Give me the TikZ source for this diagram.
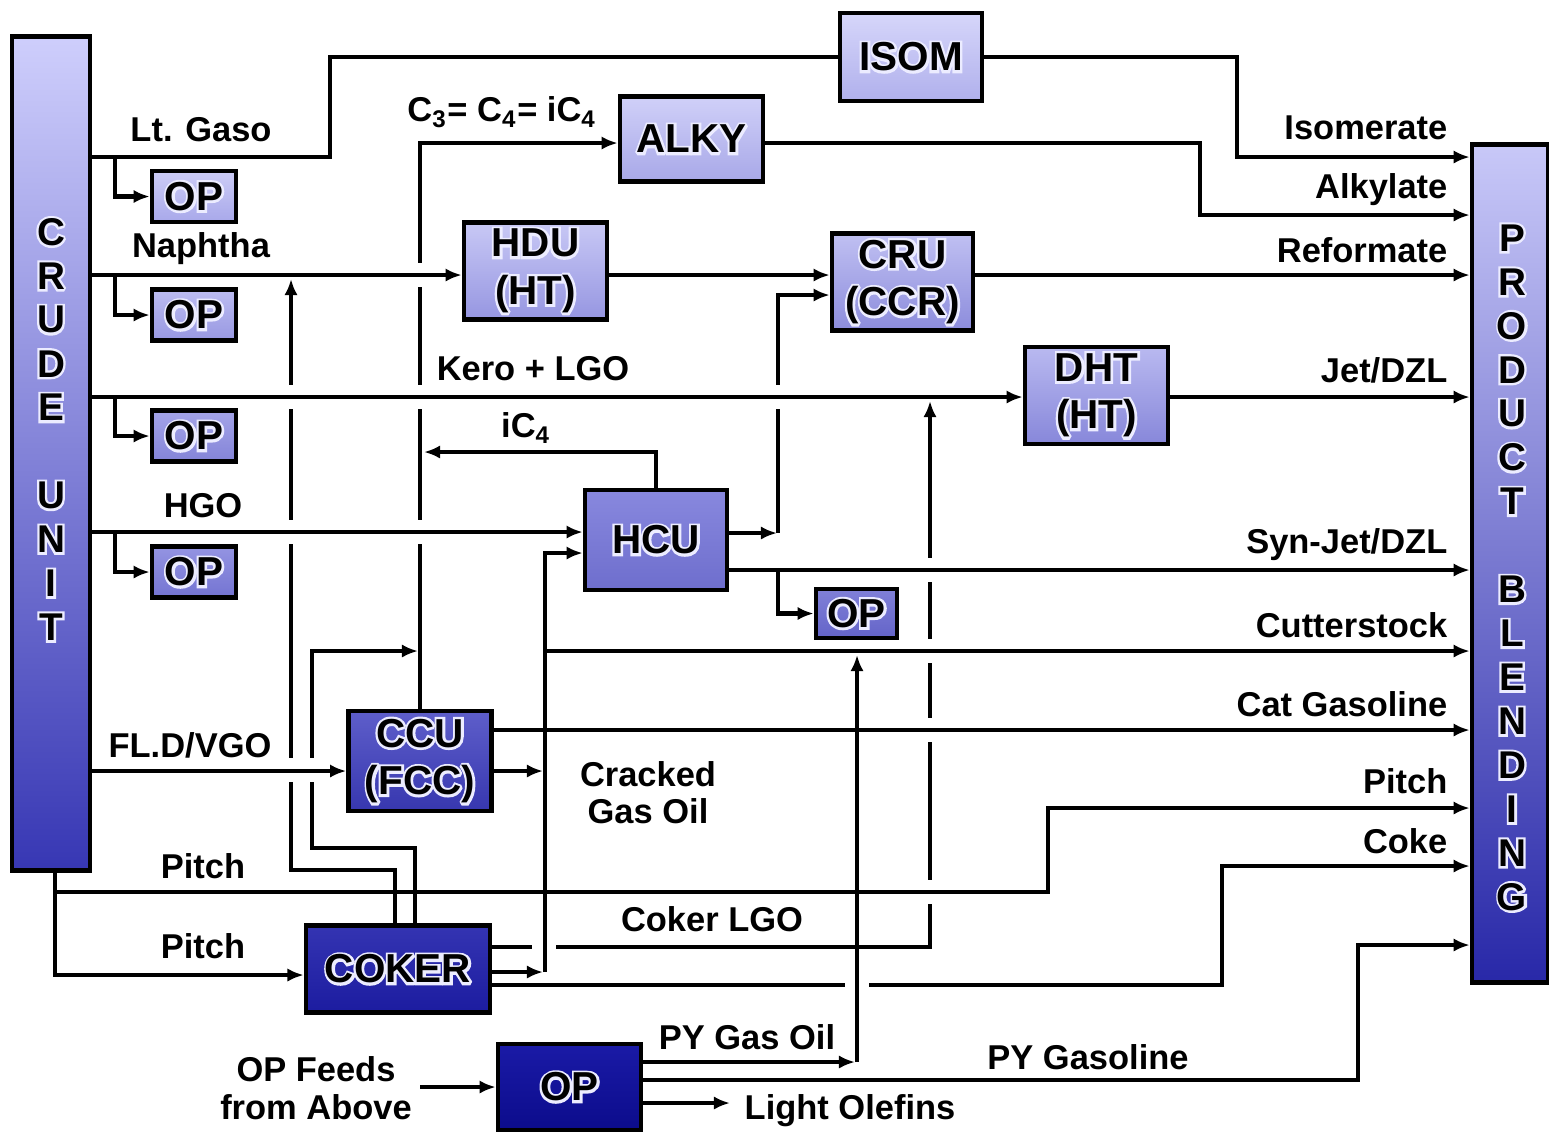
\documentclass[tikz,border=0pt]{standalone}
\usepackage{fontspec}
\setmainfont{Liberation Sans}
\newfontfamily\halofont{Liberation Sans}[BoldFeatures={FakeBold=12}]
\usetikzlibrary{arrows.meta}

\definecolor{crudeT}{RGB}{206,206,252}
\definecolor{crudeB}{RGB}{55,55,180}
\definecolor{blendT}{RGB}{200,200,248}
\definecolor{blendB}{RGB}{40,40,168}
\definecolor{isomT}{RGB}{214,214,250}
\definecolor{isomB}{RGB}{176,176,236}
\definecolor{alkyT}{RGB}{208,208,248}
\definecolor{alkyB}{RGB}{168,168,232}
\definecolor{hduT}{RGB}{200,200,245}
\definecolor{hduB}{RGB}{150,150,225}
\definecolor{cruT}{RGB}{192,192,242}
\definecolor{cruB}{RGB}{140,140,220}
\definecolor{dhtT}{RGB}{185,185,240}
\definecolor{dhtB}{RGB}{135,135,218}
\definecolor{hcuT}{RGB}{136,136,222}
\definecolor{hcuB}{RGB}{110,110,205}
\definecolor{ophcuT}{RGB}{128,128,216}
\definecolor{ophcuB}{RGB}{100,100,200}
\definecolor{ccuT}{RGB}{94,94,202}
\definecolor{ccuB}{RGB}{55,55,175}
\definecolor{cokerT}{RGB}{52,52,178}
\definecolor{cokerB}{RGB}{28,28,160}
\definecolor{opfeedT}{RGB}{26,26,166}
\definecolor{opfeedB}{RGB}{12,12,140}
\definecolor{opaT}{RGB}{204,204,246}
\definecolor{opaB}{RGB}{168,168,234}
\definecolor{opbT}{RGB}{188,188,241}
\definecolor{opbB}{RGB}{152,152,226}
\definecolor{opcT}{RGB}{164,164,232}
\definecolor{opcB}{RGB}{132,132,216}
\definecolor{opdT}{RGB}{148,148,226}
\definecolor{opdB}{RGB}{116,116,210}
\definecolor{haloc}{RGB}{236,236,255}

% light rim round the names of the units
\newcommand{\glow}[1]{\rlap{\halofont\color{haloc}#1}#1}
% white breaks where one line passes another
\newcommand{\gapv}[1]{\fill[white] #1 ++(-7,-12) rectangle ++(14,24);}
\newcommand{\gaph}[1]{\fill[white] #1 ++(-12,-7) rectangle ++(24,14);}

\begin{document}
\begin{tikzpicture}[
  x=0.01cm, y=-0.01cm,
  box/.style={
    draw=black,
    line width=1.3pt,
    miter limit=1.5,
    top color=#1T,
    bottom color=#1B,
    align=center,
    inner sep=0pt,
    font=\fontsize{11.5}{13.5}\selectfont\bfseries
  },
  column/.style={
    draw=black,
    line width=1.3pt,
    top color=#1T,
    bottom color=#1B,
    inner sep=0pt
  },
  letter/.style={font=\fontsize{11}{12}\selectfont\bfseries, inner sep=0pt, miter limit=1.5},
  lbl/.style={font=\fontsize{9.8}{10.8}\selectfont\bfseries, inner sep=0pt, align=center},
  rlbl/.style={lbl, anchor=east},
  pipe/.style={line width=1.2pt},
  flow/.style={line width=1.2pt, -{Latex[length=4.6pt,width=3.8pt]}}
]
\useasboundingbox (0,0) rectangle (1549,1132);

% columns
\node[column=crude, minimum width=0.78cm, minimum height=8.33cm] (crude) at (51,453.5) {};
\node[column=blend, minimum width=0.76cm, minimum height=8.37cm] (pb) at (1510,563.5) {};
\foreach \ch/\i in {C/0,R/1,U/2,D/3,E/4,U/6,N/7,I/8,T/9}
  \node[letter] (cu\i) at (51,{232+43.9*\i}) {\glow{\ch}};
\foreach \ch/\i in {P/0,R/1,O/2,D/3,U/4,C/5,T/6,B/8,L/9,E/10,N/11,D/12,I/13,N/14,G/15}
  \node[letter] (pb\i) at (1512,{238+43.93*\i}) {\glow{\ch}};

% units
\node[box=isom, minimum width=1.42cm, minimum height=0.88cm] (isom) at (911,57) {\glow{ISOM}};
\node[box=alky, minimum width=1.43cm, minimum height=0.85cm] (alky) at (691.5,139) {\glow{ALKY}};
\node[box=hdu, minimum width=1.43cm, minimum height=0.97cm] (hdu) at (535.5,271) {\glow{HDU}\\\glow{(HT)}};
\node[box=cru, minimum width=1.41cm, minimum height=0.97cm] (cru) at (902.5,282) {\glow{CRU}\\\glow{(CCR)}};
\node[box=dht, minimum width=1.43cm, minimum height=0.97cm] (dht) at (1096.5,395.5) {\glow{DHT}\\\glow{(HT)}};
\node[box=hcu, minimum width=1.42cm, minimum height=1.0cm] (hcu) at (656,540) {\glow{HCU}};
\node[box=ophcu, minimum width=0.81cm, minimum height=0.49cm] (ophcu) at (856.5,613.5) {\glow{OP}};
\node[box=ccu, minimum width=1.43cm, minimum height=1.0cm] (ccu) at (420,761) {\glow{CCU}\\\glow{(FCC)}};
\node[box=coker, minimum width=1.84cm, minimum height=0.87cm] (coker) at (398,969) {\glow{COKER}};
\node[box=opfeed, minimum width=1.43cm, minimum height=0.86cm] (opfeed) at (569.5,1087) {\glow{OP}};

\node[box=opa, minimum width=0.84cm, minimum height=0.51cm] (op1) at (194,196.5) {\glow{OP}};
\node[box=opb, minimum width=0.84cm, minimum height=0.51cm] (op2) at (194,315) {\glow{OP}};
\node[box=opc, minimum width=0.84cm, minimum height=0.51cm] (op3) at (194,436) {\glow{OP}};
\node[box=opd, minimum width=0.84cm, minimum height=0.51cm] (op4) at (194,572) {\glow{OP}};

% stream labels
\node[lbl] (tgaso) at (201,130) {Lt. Gaso};
\node[lbl] (tnaph) at (201,249) {Naphtha};
\node[lbl] (tkero) at (533,369) {Kero + LGO};
\node[lbl] (tic4) at (526,428) {iC\textsubscript{4}};
\node[lbl] (thgo) at (203,506) {HGO};
\node[lbl] (tvgo) at (190,745) {FL.D/VGO};
\node[lbl] (tpitch1) at (203,866) {Pitch};
\node[lbl] (tpitch2) at (203,946) {Pitch};
\node[lbl] (tolef) at (502,112) {C\textsubscript{3}= C\textsubscript{4}= iC\textsubscript{4}};
\node[lbl, font=\fontsize{9.8}{10.6}\selectfont\bfseries] (tcgo) at (648,793) {Cracked\\Gas Oil};
\node[lbl] (tclgo) at (712,919) {Coker LGO};
\node[lbl] (tpygo) at (747,1037) {PY Gas Oil};
\node[lbl] (tpyg) at (1088,1057) {PY Gasoline};
\node[lbl] (tlo) at (850,1111) {Light Olefins};
\node[lbl, font=\fontsize{9.8}{10.8}\selectfont\bfseries] (tfeed) at (316,1088) {OP Feeds\\from Above};

\node[rlbl] (tiso) at (1448,128) {Isomerate};
\node[rlbl] (talk) at (1448,190) {Alkylate};
\node[rlbl] (tref) at (1448,250) {Reformate};
\node[rlbl] (tjet) at (1448,370) {Jet/DZL};
\node[rlbl] (tsyn) at (1448,545) {Syn-Jet/DZL};
\node[rlbl] (tcut) at (1448,625) {Cutterstock};
\node[rlbl] (tcat) at (1448,704) {Cat Gasoline};
\node[rlbl] (tpit) at (1448,781) {Pitch};
\node[rlbl] (tcok) at (1448,841) {Coke};

% lines that are broken where others pass
\draw[flow] (coker.north -| 395,0) -- (395,870) -- (291,870) -- (291,279);
\draw[flow] (coker.north -| 415,0) -- (415,848) -- (312,848) -- (312,651) -- (418,651);
\draw[flow] (ccu.north) |- (alky.west |- 0,143);
\draw[flow] (hcu.east |- 0,533) -- (777,533);
\draw[flow] (778,533) |- (cru.west |- 0,295);
\draw[flow] (coker.east |- 0,947) -- (930,947) -- (930,401);
\draw[flow] (coker.east |- 0,985) -- (1222,985) -- (1222,866) -- (pb.west |- 0,866);

\gapv{(291,397)} \gapv{(291,532)} \gapv{(291,770)} \gapv{(312,770)}
\gapv{(420,275)} \gapv{(420,397)} \gapv{(420,532)} \gapv{(778,397)}
\gapv{(930,570)} \gapv{(930,651)} \gapv{(930,730)} \gapv{(930,892)}
\gaph{(544,947)} \gaph{(857,985)}

% crude unit draws
\draw[pipe] (crude.east |- 0,157) -- (330,157) -- (330,57) -- (isom.west);
\draw[flow] (isom.east) -- (1237,57) -- (1237,157) -- (pb.west |- 0,157);
\draw[flow] (crude.east |- 0,275) -- (hdu.west |- 0,275);
\draw[flow] (crude.east |- 0,397) -- (dht.west |- 0,397);
\draw[flow] (crude.east |- 0,532) -- (hcu.west |- 0,532);
\draw[flow] (crude.east |- 0,771) -- (ccu.west |- 0,771);
\foreach \yy/\op in {157/op1, 275/op2, 397/op3, 532/op4}
  \draw[flow] (115,\yy) |- (\op.west);

% unit to unit
\draw[flow] (hdu.east |- 0,275) -- (cru.west |- 0,275);
\draw[flow] (hcu.north) |- (424,452);
\draw[flow] (ccu.east |- 0,771) -- (543,771);
\draw[flow] (coker.east |- 0,972) -- (543,972);
\draw[flow] (545,972) -- (545,553) -- (hcu.west |- 0,553);
\draw[flow] (778,570) |- (ophcu.west);
\draw[flow] (tfeed.east |- opfeed.west) ++(8,0) -- (opfeed.west);
\draw[flow] (opfeed.east |- 0,1062) -- (855,1062);
\draw[flow] (857,1062) -- (857,655);
\draw[flow] (opfeed.east |- 0,1103) -- (730,1103);
\draw[flow] (55,870) -- (55,975) -- (coker.west |- 0,975);

% products to blending
\draw[flow] (alky.east |- 0,143) -- (1200,143) -- (1200,215) -- (pb.west |- 0,215);
\draw[flow] (cru.east |- 0,275) -- (pb.west |- 0,275);
\draw[flow] (dht.east |- 0,397) -- (pb.west |- 0,397);
\draw[flow] (hcu.east |- 0,570) -- (pb.west |- 0,570);
\draw[flow] (545,651) -- (pb.west |- 0,651);
\draw[flow] (ccu.east |- 0,730) -- (pb.west |- 0,730);
\draw[flow] (55,892) -- (1048,892) -- (1048,808) -- (pb.west |- 0,808);
\draw[flow] (opfeed.east |- 0,1080) -- (1358,1080) -- (1358,945) -- (pb.west |- 0,945);

\end{tikzpicture}
\end{document}
